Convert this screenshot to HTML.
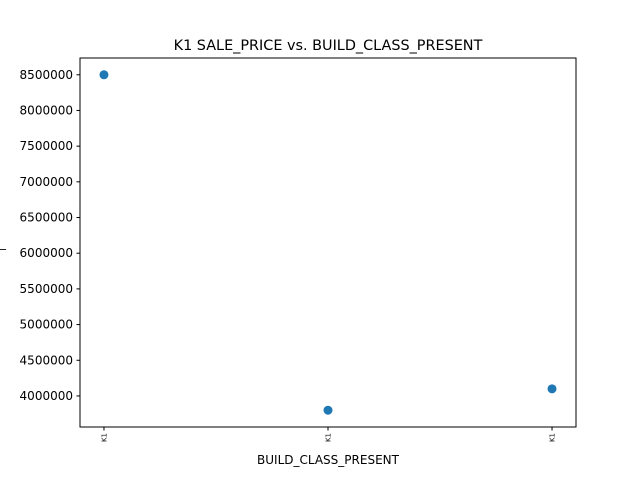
<!DOCTYPE html>
<html><head><meta charset="utf-8"><style>
body{margin:0;background:#fff;}
svg text{font-family:"DejaVu Sans","Liberation Sans",sans-serif;}
</style></head><body>
<svg id="chart" width="640" height="480" xmlns="http://www.w3.org/2000/svg">
<rect width="640" height="480" fill="#fff"/>
<text x="328" y="50" font-size="14.4" text-anchor="middle">K1 SALE_PRICE vs. BUILD_CLASS_PRESENT</text>
<g id="yticks"></g><g id="xticks"></g><g id="points"></g>
<rect x="80" y="58" width="496" height="369" fill="none" stroke="#000" stroke-width="1"/>
<text x="328" y="464" font-size="12" text-anchor="middle">BUILD_CLASS_PRESENT</text>
<text x="0" y="247" font-size="12">_</text>
</svg>
<script>
const categories = ["K1","K1","K1"];
const salePrices = [8500000, 3800000, 4100000];
const yTickValues = [4000000,4500000,5000000,5500000,6000000,6500000,7000000,7500000,8000000,8500000];
const NS="http://www.w3.org/2000/svg";
const L=80,R=576,T=58,B=427;
const yMin=3565000,yMax=8735000;
const xPad=0.107;
const xMin=-xPad,xMax=categories.length-1+xPad;
function ys(v){return B-(v-yMin)/(yMax-yMin)*(B-T);}
function xs(i){return L+(i-xMin)/(xMax-xMin)*(R-L);}
function mk(tag,attrs,parent){const e=document.createElementNS(NS,tag);for(const k in attrs)e.setAttribute(k,attrs[k]);parent.appendChild(e);return e;}
const yg=document.getElementById('yticks');
yTickValues.forEach(v=>{
  const y=ys(v);
  const t=mk('line',{x1:L-3.5,x2:L,y1:y,y2:y,stroke:'#000'},yg);
  
  
  const tx=mk('text',{x:L-7,y:y+4,'font-size':'12','text-anchor':'end'},yg);
  tx.textContent=String(v);
  
  
});
const xg=document.getElementById('xticks');
categories.forEach((c,i)=>{
  const x=xs(i);
  const t=mk('line',{x1:x,x2:x,y1:B,y2:B+3.5,stroke:'#000'},xg);
  
  
  const tx=mk('text',{x:0,y:0,'font-size':'7','text-anchor':'end',transform:`translate(${x+2.5},${B+6}) rotate(-90)`},xg);
  tx.textContent=c;
  
  
});
const pg=document.getElementById('points');
salePrices.forEach((v,i)=>{
  const c=mk('circle',{cx:xs(i),cy:ys(v),r:4.5,fill:'#1f77b4'},pg);
  
  
});
</script>
</body></html>
